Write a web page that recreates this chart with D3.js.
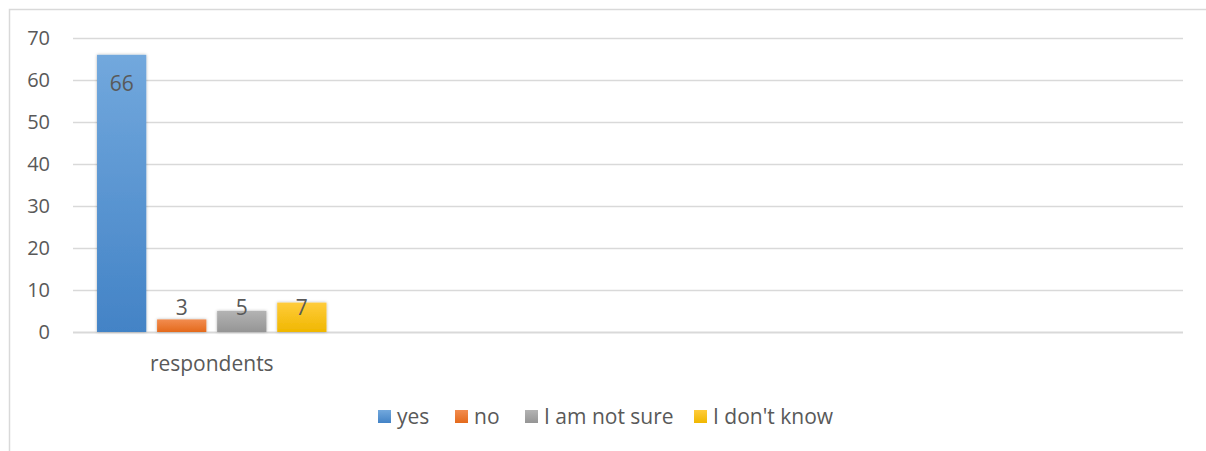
<!DOCTYPE html>
<html>
<head>
<meta charset="utf-8">
<script src="https://cdn.jsdelivr.net/npm/d3@7"></script>
<style>
  body { margin: 0; background: #fff; }
  text { font-family: "Open Sans", "Liberation Sans", sans-serif; fill: #595959; }
</style>
</head>
<body>
<div id="chart"></div>
<script>
// Chart data
const categories = ["respondents", "", "", ""];
const seriesNames = ["yes", "no", "I am not sure", "I don't know"];
const seriesValues = [66, 3, 5, 7];
const yTicks = [0, 10, 20, 30, 40, 50, 60, 70];

const width = 1206, height = 451;
const margin = { top: 38, right: 23, bottom: 119, left: 73 };
const fontSize = 20;

const colors = [
  ["#72a8dd", "#4383c6"],
  ["#f28c4f", "#e46a1c"],
  ["#b3b3b3", "#959595"],
  ["#ffcc3c", "#f0b700"]
];

const svg = d3.select("#chart").append("svg")
  .attr("width", width)
  .attr("height", height);

// gradients + soft shadow like the office chart
const defs = svg.append("defs");
colors.forEach((c, i) => {
  const g = defs.append("linearGradient")
    .attr("id", "grad" + i)
    .attr("x1", 0).attr("y1", 0).attr("x2", 0).attr("y2", 1);
  g.append("stop").attr("offset", "0%").attr("stop-color", c[0]);
  g.append("stop").attr("offset", "100%").attr("stop-color", c[1]);
});
const shadow = defs.append("filter").attr("id", "shadow")
  .attr("x", "-20%").attr("y", "-20%").attr("width", "140%").attr("height", "140%");
shadow.append("feDropShadow")
  .attr("dx", 0).attr("dy", 0).attr("stdDeviation", 1.5)
  .attr("flood-color", "#000").attr("flood-opacity", 0.3);

// chart frame
svg.append("path")
  .attr("d", `M9.5,${height} V9.5 H${width}`)
  .attr("fill", "none")
  .attr("stroke", "#d9d9d9")
  .attr("stroke-width", 1.5);

const x = d3.scaleBand()
  .domain(d3.range(categories.length))
  .range([margin.left, width - margin.right]);

const x1 = d3.scaleBand()
  .domain(d3.range(seriesNames.length))
  .range([0, x.bandwidth()])
  .paddingInner(0.18)
  .paddingOuter(0.4);

const y = d3.scaleLinear()
  .domain([0, 70])
  .range([height - margin.bottom, margin.top]);

// gridlines
svg.append("g")
  .selectAll("line")
  .data(yTicks)
  .join("line")
  .attr("x1", margin.left)
  .attr("x2", width - margin.right)
  .attr("y1", d => Math.round(y(d)) + 0.5)
  .attr("y2", d => Math.round(y(d)) + 0.5)
  .attr("stroke", "#d9d9d9")
  .attr("stroke-width", d => d === 0 ? 2 : 1.5);

// y axis labels
const yAxis = svg.append("g")
  .attr("transform", `translate(${margin.left - 23},0)`)
  .call(d3.axisLeft(y).tickValues(yTicks).tickSize(0).tickPadding(0));
yAxis.select(".domain").remove();
yAxis.selectAll("text")
  .attr("font-size", fontSize)
  .attr("font-family", "'Open Sans', sans-serif")
  .attr("fill", "#595959");

// x axis labels
const xAxis = svg.append("g")
  .attr("transform", `translate(0,${height - margin.bottom})`)
  .call(d3.axisBottom(x).tickFormat(i => categories[i]).tickSize(0).tickPadding(24));
xAxis.select(".domain").remove();
xAxis.selectAll("text")
  .attr("font-size", 21)
  .attr("font-family", "'Open Sans', sans-serif")
  .attr("fill", "#595959");

// bars
const bars = svg.append("g")
  .attr("transform", `translate(${x(0)},0)`);

bars.selectAll("rect")
  .data(seriesValues)
  .join("rect")
  .attr("x", (d, i) => x1(i))
  .attr("y", d => y(d))
  .attr("width", x1.bandwidth())
  .attr("height", d => y(0) - y(d))
  .attr("fill", (d, i) => `url(#grad${i})`)
  .attr("filter", "url(#shadow)");

// data labels (inside end, pushed up for short bars)
bars.selectAll("text")
  .data(seriesValues)
  .join("text")
  .attr("x", (d, i) => x1(i) + x1.bandwidth() / 2)
  .attr("y", d => Math.min(y(d) + 36, y(0) - 17))
  .attr("text-anchor", "middle")
  .attr("font-size", 21)
  .attr("fill", "#404040")
  .text(d => d);

// legend
const legendX = [378, 455, 525, 694];
const legend = svg.append("g")
  .selectAll("g")
  .data(seriesNames)
  .join("g")
  .attr("transform", (d, i) => `translate(${legendX[i]},410)`);

legend.append("rect")
  .attr("width", 13)
  .attr("height", 13)
  .attr("fill", (d, i) => `url(#grad${i})`);

legend.append("text")
  .attr("x", 19)
  .attr("y", 14)
  .attr("font-size", 21)
  .text(d => d);
</script>
</body>
</html>
